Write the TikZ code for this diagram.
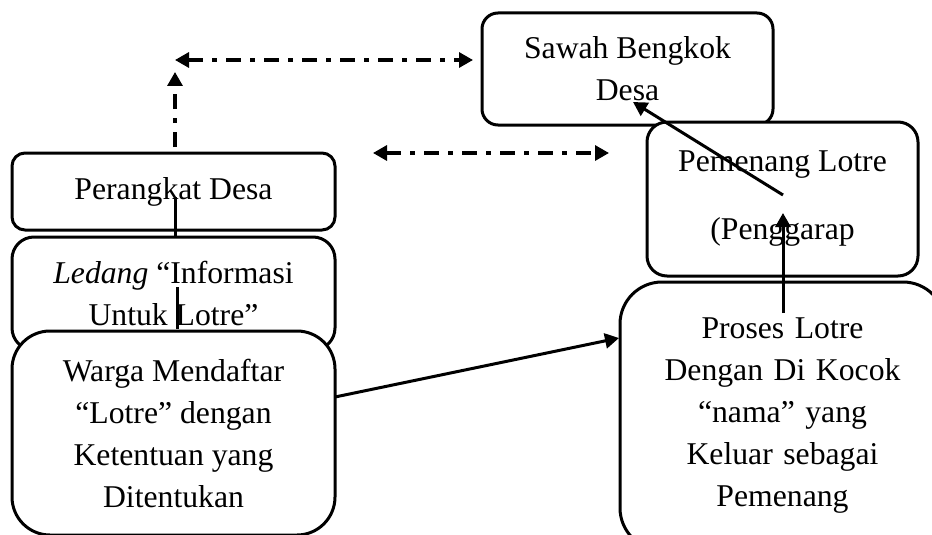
\documentclass[tikz,border=0pt]{standalone}
\usepackage{fontspec}
\setmainfont{Liberation Serif}
\usetikzlibrary{arrows.meta}
\begin{document}
\begin{tikzpicture}[x=1pt,y=-1pt,
  box/.style={draw,line width=3pt,fill=white,inner sep=0pt,align=center,
    font=\fontsize{31.7}{42}\selectfont},
  link/.style={line width=3pt},
  arr/.style={line width=3pt,-{Triangle[length=14pt,width=15pt]}},
  dd/.style={line width=3.2pt,dash pattern=on 15pt off 9pt on 5pt off 9pt}]
\useasboundingbox (0,0) rectangle (932,535);
\begin{scope}
\clip (0,0) rectangle (932,535);
% left column
\node[box,rounded corners=13pt,minimum width=323pt,minimum height=77pt] (perangkat) at (173.5,191.5) {Perangkat Desa};
\node[box,rounded corners=22pt,minimum width=323pt,minimum height=113pt] (ledang) at (173.5,293.5) {\textit{Ledang} ``Informasi\\Untuk Lotre''};
\node[box,rounded corners=38pt,minimum width=323pt,minimum height=204pt] (warga) at (173.5,433) {Warga Mendaftar\\``Lotre'' dengan\\Ketentuan yang\\Ditentukan};
% right column
\node[box,rounded corners=16pt,minimum width=291pt,minimum height=112pt] (sawah) at (627.5,69) {Sawah Bengkok\\Desa};
\node[box,rounded corners=20pt,minimum width=271pt,minimum height=154pt] (pemenang) at (782.5,199) {Pemenang Lotre\\[26pt](Penggarap};
\node[box,rounded corners=42pt,minimum width=325pt,minimum height=268pt,text width=325pt] (proses) at (782.5,416) {Proses Lotre\\Dengan Di Kocok\\``nama'' yang\\Keluar sebagai\\Pemenang};
\end{scope}
% named end points
\coordinate (p1) at (175,197);
\coordinate (p2) at (175,236);
\coordinate (l1) at (177,287);
\coordinate (l2) at (177,329);
\coordinate (up0) at (175,147);
\coordinate (up1) at (175,72);
\coordinate (h1a) at (175,60);
\coordinate (h1b) at (473,60);
\coordinate (h2a) at (373,153);
\coordinate (h2b) at (609,153);
\coordinate (w0) at (335,397);
\coordinate (pr0) at (619,338);
\coordinate (pr1) at (783,313);
\coordinate (pm0) at (783,213);
\coordinate (pm1) at (783,195);
\coordinate (sw0) at (633,102);
% connectors
\draw[link] (p1) -- (p2);
\draw[link] (l1) -- (l2);
\draw[dd,-{Triangle[length=14pt,width=15pt]}] (up0) -- (up1);
\draw[dd,{Triangle[length=14pt,width=15pt]}-{Triangle[length=14pt,width=15pt]}] (h1a) -- (h1b);
\draw[dd,{Triangle[length=14pt,width=15pt]}-{Triangle[length=14pt,width=15pt]}] (h2a) -- (h2b);
\draw[arr] (w0) -- (pr0);
\draw[arr] (pr1) -- (pm0);
\draw[arr] (pm1) -- (sw0);
\end{tikzpicture}
\end{document}
